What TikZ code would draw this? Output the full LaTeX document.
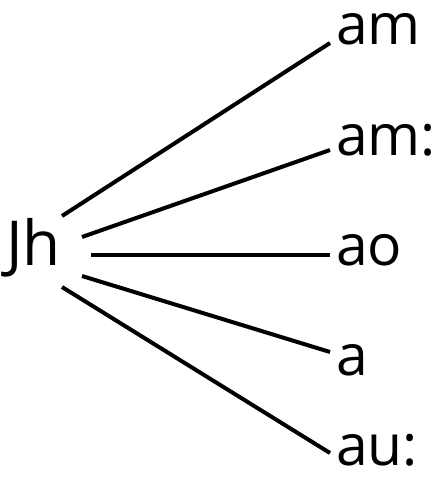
\documentclass[tikz,border=0pt]{standalone}
\usepackage{fontspec}
\setmainfont{Open Sans}
\begin{document}
\begin{tikzpicture}[x=1pt,y=-1pt,
  lbl/.style={anchor=base west,inner sep=0pt,font=\fontsize{57}{60}\selectfont},
  edge/.style={line width=4pt}]
\useasboundingbox (0,0) rectangle (435,489);
\node[lbl,font=\fontsize{62}{66}\selectfont] (root) at (6,265) {Jh};
\node[lbl] (l1) at (336,45) {am};
\node[lbl] (l2) at (336,155) {am:};
\node[lbl] (l3) at (336,265) {ao};
\node[lbl] (l4) at (336,375) {a};
\node[lbl] (l5) at (336,465) {au:};
\coordinate (s1) at (62,216);
\coordinate (s2) at (82,237);
\coordinate (s3) at (91,255);
\coordinate (s4) at (82,276);
\coordinate (s5) at (62,287);
\coordinate (e1) at (330,43);
\coordinate (e2) at (330,150);
\coordinate (e3) at (330,255);
\coordinate (e4) at (330,352);
\coordinate (e5) at (330,453);
\draw[edge] (s1) -- (e1);
\draw[edge] (s2) -- (e2);
\draw[edge] (s3) -- (e3);
\draw[edge] (s4) -- (e4);
\draw[edge] (s5) -- (e5);
\end{tikzpicture}
\end{document}
